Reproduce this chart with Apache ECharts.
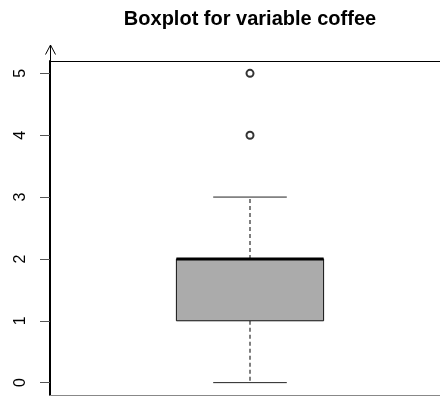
<!DOCTYPE html>
<html>
<head>
<meta charset="utf-8">
<script src="https://cdn.jsdelivr.net/npm/echarts@6/dist/echarts.min.js"></script>
<style>
  html, body { margin: 0; padding: 0; background: #fff; }
  #main { width: 440px; height: 396px; }
</style>
</head>
<body>
<div id="main"></div>
<script>
// data
var variableName = 'coffee';
// min, Q1, median, Q3, max (whisker ends)
var boxStats = [[0, 1, 2, 2, 3]];
var outliers = [[0, 5], [0, 4]];
var yTicks = [0, 1, 2, 3, 4, 5];

var chart = echarts.init(document.getElementById('main'));

// x: one box at position 0, plot region runs past the right edge like R's
var hiddenX = {
  type: 'value',
  min: -0.5,
  max: 0.475,
  splitLine: { show: false },
  axisTick: { show: false },
  axisLabel: { show: false }
};

var option = {
  animation: false,
  title: {
    text: 'Boxplot for variable ' + variableName,
    left: 245,
    textAlign: 'center',
    top: 4,
    textStyle: {
      fontFamily: 'Liberation Sans',
      fontSize: 20,
      fontWeight: 'bold',
      color: '#000'
    }
  },
  grid: { left: 50, top: 61, right: 0, height: 334 },
  xAxis: [
    Object.assign({}, hiddenX, {
      position: 'bottom',
      axisLine: { show: true, onZero: false, lineStyle: { color: '#888', width: 1 } }
    }),
    Object.assign({}, hiddenX, {
      position: 'top',
      axisLine: { show: true, onZero: false, lineStyle: { color: '#000', width: 1 } }
    })
  ],
  yAxis: {
    type: 'value',
    min: -0.2,
    max: 5.2,
    splitLine: { show: false },
    axisLine: { show: true, onZero: false, lineStyle: { color: '#000', width: 2 } },
    axisTick: {
      show: true,
      length: 10,
      customValues: yTicks,
      lineStyle: { color: '#555', width: 1 }
    },
    axisLabel: {
      customValues: yTicks,
      rotate: 90,
      margin: 21,
      color: '#000',
      fontFamily: 'Liberation Sans',
      fontSize: 16
    }
  },
  graphic: [
    {
      type: 'polyline',
      shape: { points: [[50.5, 61], [50.5, 45]] },
      style: { stroke: '#000', lineWidth: 1, fill: null }
    },
    {
      type: 'polyline',
      shape: { points: [[45.5, 54.5], [50.5, 45], [55.5, 54.5]] },
      style: { stroke: '#000', lineWidth: 1, fill: null }
    }
  ],
  series: [
    {
      type: 'custom',
      data: boxStats.map(function (s, i) { return [i].concat(s); }),
      renderItem: function (params, api) {
        var x = api.value(0);
        var unit = api.size([1, 0])[0];
        var half = unit * 0.184;
        var cap = half / 2;
        var pMin = api.coord([x, api.value(1)]);
        var pQ1 = api.coord([x, api.value(2)]);
        var pMed = api.coord([x, api.value(3)]);
        var pQ3 = api.coord([x, api.value(4)]);
        var pMax = api.coord([x, api.value(5)]);
        var cx = pMin[0];
        var dashed = { stroke: '#555', lineWidth: 1.5, lineDash: [4, 3] };
        var solid = { stroke: '#222', lineWidth: 1 };
        return {
          type: 'group',
          children: [
            { type: 'line', shape: { x1: cx, y1: pQ3[1], x2: cx, y2: pMax[1] }, style: dashed },
            { type: 'line', shape: { x1: cx, y1: pQ1[1], x2: cx, y2: pMin[1] }, style: dashed },
            { type: 'line', shape: { x1: cx - cap, y1: pMax[1], x2: cx + cap, y2: pMax[1] }, style: solid },
            { type: 'line', shape: { x1: cx - cap, y1: pMin[1], x2: cx + cap, y2: pMin[1] }, style: solid },
            {
              type: 'rect',
              shape: { x: cx - half, y: pQ3[1], width: half * 2, height: pQ1[1] - pQ3[1] },
              style: { fill: '#ababab', stroke: '#111', lineWidth: 1 }
            },
            { type: 'line', shape: { x1: cx - half, y1: pMed[1], x2: cx + half, y2: pMed[1] }, style: { stroke: '#000', lineWidth: 3 } }
          ]
        };
      }
    },
    {
      type: 'scatter',
      data: outliers,
      symbol: 'emptyCircle',
      symbolSize: 7,
      itemStyle: { color: '#000', borderColor: '#000', borderWidth: 2 }
    }
  ]
};

chart.setOption(option);
</script>
</body>
</html>
